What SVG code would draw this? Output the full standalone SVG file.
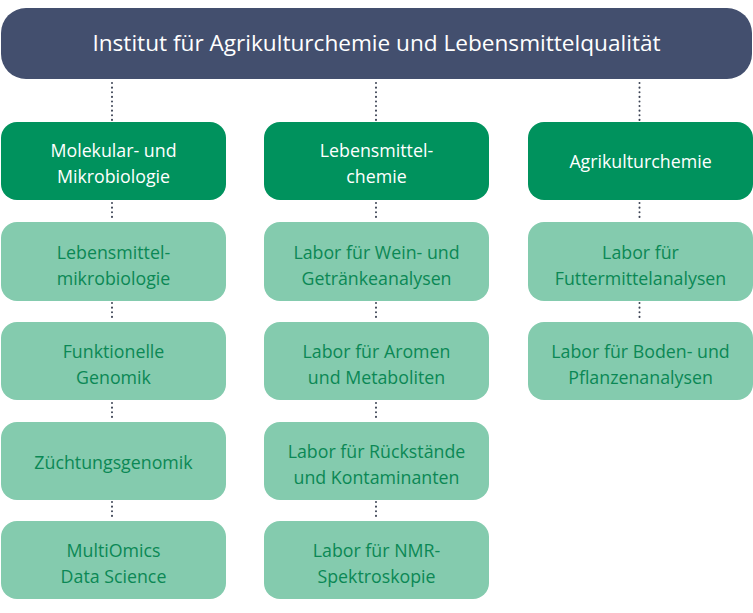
<svg xmlns="http://www.w3.org/2000/svg" width="753" height="613" viewBox="0 0 753 613">
<style>
.hdr{fill:#434f6e}
.dark{fill:#00925d}
.light{fill:#84cbae}
text{font-family:"Open Sans","Noto Sans","Liberation Sans",sans-serif;text-anchor:middle}
.th{fill:#ffffff;font-size:22.6px}
.td{fill:#ffffff;font-size:17.8px}
.tl{fill:#0b8855;font-size:17.8px}
.con line{stroke:#3c4354;stroke-width:2;stroke-dasharray:0.1 4.5;stroke-linecap:round;fill:none}
</style>
<rect width="753" height="613" fill="#ffffff"/>
<g class="con" id="connectors">
<line x1="112" y1="83" x2="112" y2="120"/>
<line x1="376" y1="83" x2="376" y2="120"/>
<line x1="639.5" y1="83" x2="639.5" y2="120"/>
<line x1="112" y1="203" x2="112" y2="221"/>
<line x1="112" y1="303" x2="112" y2="321"/>
<line x1="112" y1="403" x2="112" y2="421"/>
<line x1="112" y1="502" x2="112" y2="520"/>
<line x1="376" y1="203" x2="376" y2="221"/>
<line x1="376" y1="303" x2="376" y2="321"/>
<line x1="376" y1="403" x2="376" y2="421"/>
<line x1="376" y1="502" x2="376" y2="520"/>
<line x1="639.5" y1="203" x2="639.5" y2="221"/>
<line x1="639.5" y1="303" x2="639.5" y2="321"/>
</g>
<g id="institut">
<rect class="hdr" x="1" y="8" width="751" height="71" rx="25"/>
<text class="th" x="376.5" y="51">Institut für Agrikulturchemie und Lebensmittelqualität</text>
</g>
<g id="molekular">
<rect class="dark" x="1" y="122" width="225" height="78" rx="16"/>
<text class="td" x="113.5" y="157">Molekular- und</text>
<text class="td" x="113.5" y="183">Mikrobiologie</text>
</g>
<g id="lebensmittelchemie">
<rect class="dark" x="264" y="122" width="225" height="78" rx="16"/>
<text class="td" x="376.5" y="157">Lebensmittel-</text>
<text class="td" x="376.5" y="183">chemie</text>
</g>
<g id="agrikulturchemie">
<rect class="dark" x="528" y="122" width="225" height="78" rx="16"/>
<text class="td" x="640.5" y="168">Agrikulturchemie</text>
</g>
<g id="lmmikro">
<rect class="light" x="1" y="222" width="225" height="79" rx="16"/>
<text class="tl" x="113.5" y="259">Lebensmittel-</text>
<text class="tl" x="113.5" y="285">mikrobiologie</text>
</g>
<g id="genomik">
<rect class="light" x="1" y="322" width="225" height="78" rx="16"/>
<text class="tl" x="113.5" y="358">Funktionelle</text>
<text class="tl" x="113.5" y="384">Genomik</text>
</g>
<g id="zuechtung">
<rect class="light" x="1" y="422" width="225" height="78" rx="16"/>
<text class="tl" x="113.5" y="469">Züchtungsgenomik</text>
</g>
<g id="multiomics">
<rect class="light" x="1" y="521" width="225" height="78" rx="16"/>
<text class="tl" x="113.5" y="557">MultiOmics</text>
<text class="tl" x="113.5" y="583">Data Science</text>
</g>
<g id="wein">
<rect class="light" x="264" y="222" width="225" height="79" rx="16"/>
<text class="tl" x="376.5" y="259">Labor für Wein- und</text>
<text class="tl" x="376.5" y="285">Getränkeanalysen</text>
</g>
<g id="aromen">
<rect class="light" x="264" y="322" width="225" height="78" rx="16"/>
<text class="tl" x="376.5" y="358">Labor für Aromen</text>
<text class="tl" x="376.5" y="384">und Metaboliten</text>
</g>
<g id="rueckstaende">
<rect class="light" x="264" y="422" width="225" height="78" rx="16"/>
<text class="tl" x="376.5" y="458">Labor für Rückstände</text>
<text class="tl" x="376.5" y="484">und Kontaminanten</text>
</g>
<g id="nmr">
<rect class="light" x="264" y="521" width="225" height="78" rx="16"/>
<text class="tl" x="376.5" y="557">Labor für NMR-</text>
<text class="tl" x="376.5" y="583">Spektroskopie</text>
</g>
<g id="futtermittel">
<rect class="light" x="528" y="222" width="225" height="79" rx="16"/>
<text class="tl" x="640.5" y="259">Labor für</text>
<text class="tl" x="640.5" y="285">Futtermittelanalysen</text>
</g>
<g id="boden">
<rect class="light" x="528" y="322" width="225" height="78" rx="16"/>
<text class="tl" x="640.5" y="358">Labor für Boden- und</text>
<text class="tl" x="640.5" y="384">Pflanzenanalysen</text>
</g>
</svg>
